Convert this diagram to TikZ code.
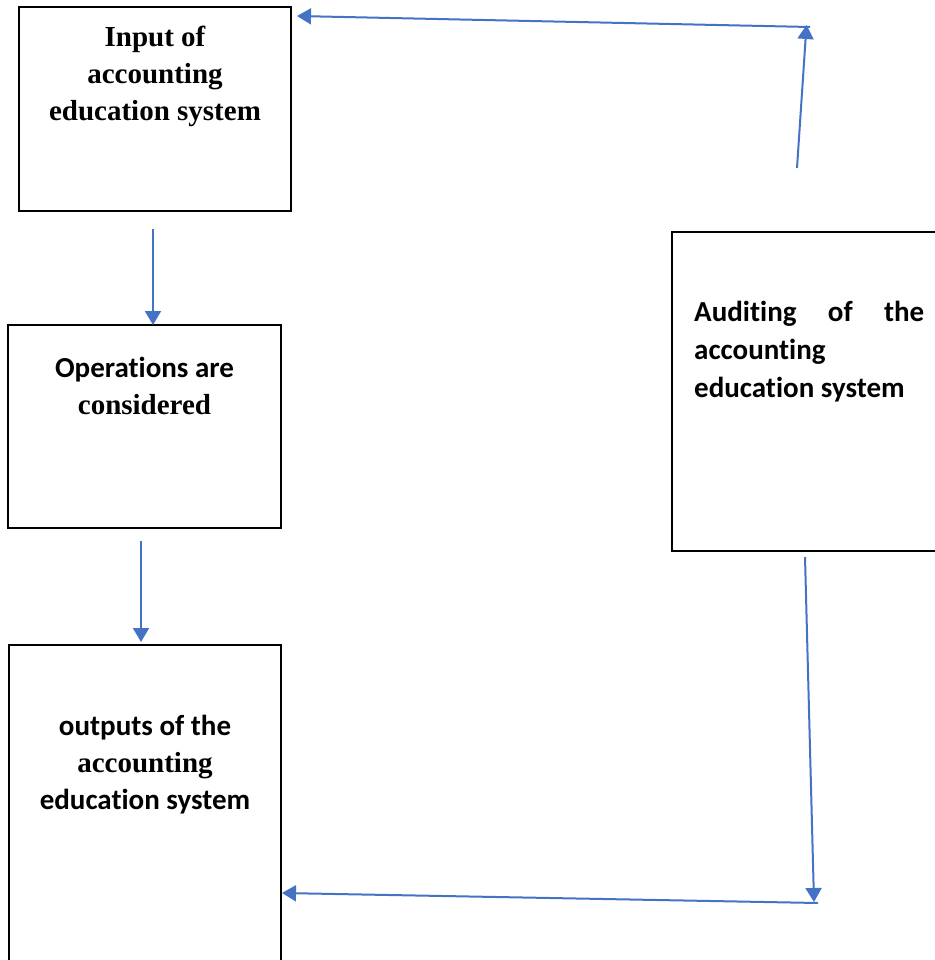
\documentclass[tikz,border=0pt]{standalone}
\usepackage{fontspec}
\setmainfont{Liberation Serif}
\newfontfamily\calibri[Ligatures=NoCommon]{Carlito}
\usetikzlibrary{arrows.meta,positioning}
\definecolor{flowblue}{RGB}{68,114,196}

\begin{document}
\begin{tikzpicture}[x=1pt,y=-1pt,
    font=\bfseries\fontsize{29}{37}\selectfont,
    box/.style={draw=black, line width=2.6pt, inner sep=0pt, outer sep=0pt},
    boxtext/.style={inner sep=0pt, align=center},
    sanstext/.style={inner sep=0pt, align=left,
        font=\bfseries\calibri\fontsize{29}{38}\selectfont},
    flow/.style={draw=flowblue, line width=2pt,
        -{Triangle[length=14pt,width=16pt]}}]

   \useasboundingbox (0,0) rectangle (934,960);

   \node[box,
         minimum width=272pt,
         minimum height=204pt] (in) at (155,109) {};
   \node[box,
         below=114pt of in,
         xshift=-10.5pt,
         minimum width=273pt,
         minimum height=203pt] (op) {};
   \node[box,
         below=117pt of op,
         xshift=0.5pt,
         minimum width=272pt,
         minimum height=355pt] (out) {};
   \node[box,
         minimum width=288pt,
         minimum height=319pt] (aud) at (816,391.5) {};

   \node[boxtext, below=19pt of in.north] (inT)
        {Input of\\accounting\\education system};
   \node[boxtext, below=32pt of op.north] (opT)
        {{\calibri Operations are}\\considered};
   \node[boxtext, below=70pt of out.north] (outT)
        {{\calibri outputs of the}\\accounting\\{\calibri education system}};
   \node[sanstext, below right=69pt and 22pt of aud.north west] (audT)
        {\hbox to 230pt{Auditing\hfill of\hfill the}\\accounting\\education system};

   \coordinate (topc) at (810,27);
   \coordinate (botc) at (818,903);

   % Connect the boxes with arrows
   \draw[flow] ([shift={(-2,18)}]in.south) -- ([shift={(8.5,0)}]op.north);
   \draw[flow] ([shift={(-3.5,13)}]op.south) -- ([shift={(-4,-3)}]out.north);
   \draw[flow] ([shift={(-11,6)}]aud.south) -- ([shift={(-4,-1)}]botc);
   \draw[flow] (botc) -- ([shift={(1,70.5)}]out.east);
   \draw[flow] ([shift={(-19,-64)}]aud.north) -- ([shift={(-3.5,-2)}]topc);
   \draw[flow] (topc) -- ([shift={(6,-93)}]in.east);
\end{tikzpicture}
\end{document}
